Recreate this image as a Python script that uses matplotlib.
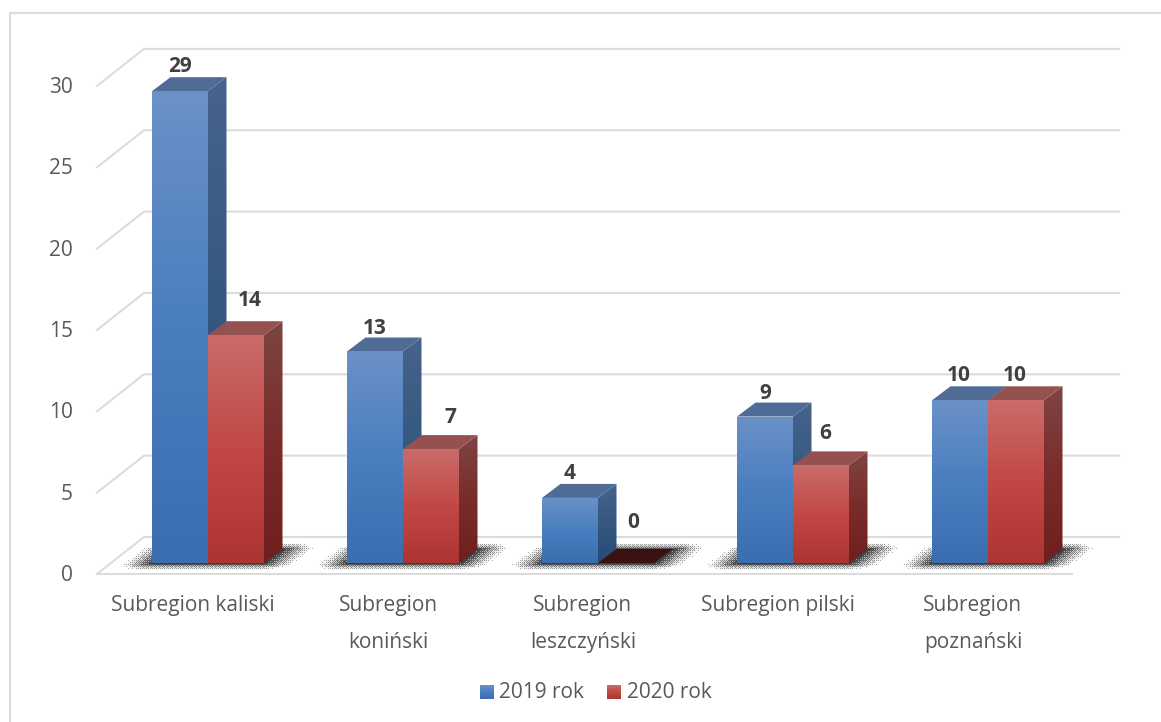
import numpy as np
import matplotlib
matplotlib.use("Agg")
import matplotlib.pyplot as plt
from matplotlib.patches import Polygon
from matplotlib.colors import LinearSegmentedColormap

plt.rcParams['font.family'] = ['Open Sans', 'DejaVu Sans']

# data
categories = ['Subregion kaliski', 'Subregion\nkoniński', 'Subregion\nleszczyński',
              'Subregion pilski', 'Subregion\npoznański']
series_names = ['2019 rok', '2020 rok']
values_2019 = [29, 13, 4, 9, 10]
values_2020 = [14, 7, 0, 6, 10]
y_ticks = [0, 5, 10, 15, 20, 25, 30]

W, H = 1161, 722

# the whole figure is one axes, x in categories and y in chart units
px_per_cat = 195.0
px_per_val = 16.27
x0_px = 208.0    # pixel x of first category's middle
y0_px = 574.0    # pixel y of value 0 on the front of the floor


def xpx(x):
    return (x - x0_px) / px_per_cat


def ypx(y):
    return (y0_px - y) / px_per_val


fig = plt.figure(figsize=(W / 100, H / 100), dpi=100)
ax = fig.add_axes([0, 0, 1, 1])
ax.set_xlim(xpx(0), xpx(W))
ax.set_ylim(ypx(H), ypx(0))
ax.axis('off')

GRID = '#dcdcdc'
TEXT = '#595959'
BOLD = '#404040'
FS = 15

# chart frame, open on the right and at the bottom
ax.plot([xpx(W), xpx(9.5), xpx(9.5)], [ypx(12.5), ypx(12.5), ypx(H)],
        color=GRID, lw=1.5, zorder=1)

# walls and floor
wall_dx = 47 / px_per_cat
wall_dy = 37 / px_per_val
x_left, x_right = xpx(97), xpx(1072)
for t in y_ticks:
    ax.plot([x_left, x_left + wall_dx, x_right + wall_dx],
            [t, t + wall_dy, t + wall_dy], color=GRID, lw=1.5, zorder=1,
            solid_joinstyle='round')
ax.plot([x_left, x_right], [0, 0], color=GRID, lw=1.5, zorder=1)
for t in y_ticks:
    ax.text(xpx(73), t - 1.5 / px_per_val, str(t), ha='right', va='center', fontsize=FS, color=TEXT)

# bar geometry
bar_w = 56 / px_per_cat
depth_dx = 18.5 / px_per_cat
depth_dy = 14 / px_per_val
base = 11 / px_per_val     # bars stand a little in from the floor edge


def gradient_fill(verts, colors, y_lo, y_hi, zorder):
    # vertical gradient clipped to a polygon
    cmap = LinearSegmentedColormap.from_list('g', colors)
    xs = [v[0] for v in verts]
    im = ax.imshow(np.linspace(1, 0, 256).reshape(-1, 1), cmap=cmap, aspect='auto',
                   extent=[min(xs), max(xs), y_lo, y_hi], origin='upper',
                   zorder=zorder, vmin=0, vmax=1)
    im.set_clip_path(Polygon(verts, closed=True, transform=ax.transData))
    ax.set_xlim(xpx(0), xpx(W))
    ax.set_ylim(ypx(H), ypx(0))


blue = dict(front=['#3a6eb0', '#4a7ebf', '#6b91c8'], side=['#254a75', '#34587f', '#47638c'], top='#4f6c97')
red = dict(front=['#ac3431', '#c24845', '#c96c6a'], side=['#6e1f1e', '#7a2c2a', '#7d4543'], top='#955150')
zero_top = '#3a1211'


def draw_bar(x, v, style, z):
    b = base
    t = base + v
    if v > 0:
        gradient_fill([(x, b), (x + bar_w, b), (x + bar_w, t), (x, t)],
                      style['front'], b, t, z + 1)
        gradient_fill([(x + bar_w, b), (x + bar_w + depth_dx, b + depth_dy),
                       (x + bar_w + depth_dx, t + depth_dy), (x + bar_w, t)],
                      style['side'], b, t + depth_dy, z)
    top_col = style['top'] if v > 0 else zero_top
    ax.add_patch(Polygon([(x, t), (x + bar_w, t), (x + bar_w + depth_dx, t + depth_dy),
                          (x + depth_dx, t + depth_dy)], closed=True,
                         fc=top_col, ec='none', zorder=z))


# floor shadow under each pair, part smooth and part dithered like the original
bayer = np.array([[0, 8, 2, 10], [12, 4, 14, 6], [3, 11, 1, 9], [15, 7, 13, 5]]) / 16 + 1 / 32
yy, xx = np.mgrid[0:H, 0:W]
alpha = np.zeros((H, W))
shear = 18.5 / 14
base_px = y0_px - 11
for i in range(len(categories)):
    g0 = x0_px + i * px_per_cat - 56
    g1 = x0_px + i * px_per_cat + 56
    h = (base_px - yy)
    u = xx - h * shear
    du = np.maximum(np.maximum(g0 - u, u - g1), 0)
    dv = np.maximum(np.maximum(-h, h - 14), 0)
    d = np.sqrt((du / 30) ** 2 + (dv / 6.5) ** 2)
    alpha = np.maximum(alpha, np.clip(1 - d, 0, 1))
mask = alpha > bayer[yy % 4, xx % 4]
shadow = np.zeros((H, W, 4))
shadow[..., :3] = 0.2
shadow[..., 3] = np.clip(mask * 0.4 + alpha ** 1.3 * 0.55, 0, 1) * (alpha > 0)
ax.imshow(shadow, extent=[xpx(0), xpx(W), ypx(H), ypx(0)], aspect='auto', origin='upper',
          zorder=2, interpolation='nearest')
ax.set_xlim(xpx(0), xpx(W))
ax.set_ylim(ypx(H), ypx(0))

for i in range(len(categories)):
    draw_bar(i - bar_w, values_2019[i], blue, 3)
    draw_bar(float(i), values_2020[i], red, 5)

# value labels, shifted by hand in the original so the nudges are per label
nudge_2019 = [(0, 25), (0, 23), (0, 24), (0, 23), (-1, 25)]
nudge_2020 = [(14, 35), (19, 32), (7, 40), (4, 32), (-1, 25)]
for i in range(len(categories)):
    for v, xc, nud in ((values_2019[i], i - bar_w / 2, nudge_2019[i]),
                       (values_2020[i], i + bar_w / 2, nudge_2020[i])):
        ax.text(xc + nud[0] / px_per_cat, base + v + nud[1] / px_per_val, str(v),
                ha='center', va='center', fontsize=FS, fontweight='bold', color=BOLD, zorder=8)

# category labels
for i, cat in enumerate(categories):
    ax.text(i - 15 / px_per_cat, ypx(595), cat, ha='center', va='top', fontsize=FS,
            color=TEXT, linespacing=1.98)

# legend
for name, style, sx, tx in zip(series_names, (blue, red), (480, 607), (499, 627)):
    gradient_fill([(xpx(sx), ypx(699)), (xpx(sx + 14), ypx(699)),
                   (xpx(sx + 14), ypx(685)), (xpx(sx), ypx(685))],
                  style['front'], ypx(699), ypx(685), 6)
    ax.text(xpx(tx), ypx(693), name, ha='left', va='center', fontsize=FS, color=TEXT)

fig.savefig('out.png', dpi=100)
